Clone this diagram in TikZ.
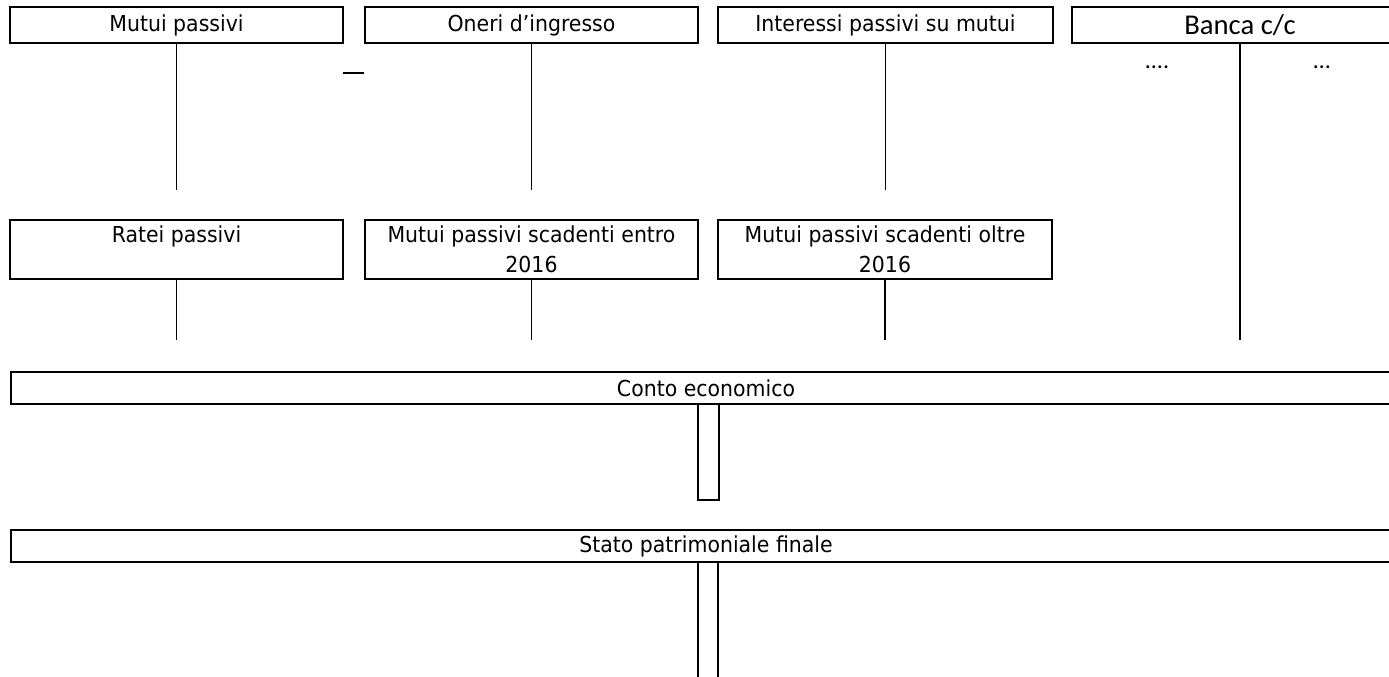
\documentclass[tikz,border=0pt]{standalone}
\usepackage{fontspec}
\setmainfont{DejaVu Sans}[FakeStretch=0.93]
\newfontfamily\calib{Carlito}
\begin{document}
\begin{tikzpicture}[x=0.75pt,y=-0.75pt,
  acct/.style={draw,line width=1.4pt,inner sep=0pt,outer sep=0pt,anchor=north west,align=center,
    font=\fontsize{16.5pt}{22.5pt}\selectfont},
  wide/.style={acct,line width=1.7pt,minimum width=1389*0.75pt,minimum height=32*0.75pt},
  stem/.style={line width=1.2pt},
  dots/.style={font=\calib\fontsize{18pt}{20pt}\selectfont,inner sep=0pt}]
\clip (0,0) rectangle (1389,677);
% row 1
\node[acct,minimum width=333*0.75pt,minimum height=36*0.75pt] (mp) at (10,7) {Mutui passivi};
\node[acct,minimum width=333*0.75pt,minimum height=36*0.75pt] (oi) at (365,7) {Oneri d’ingresso};
\node[acct,minimum width=335*0.75pt,minimum height=36*0.75pt] (ip) at (718,7) {Interessi passivi su mutui};
\node[acct,minimum width=336*0.75pt,minimum height=36*0.75pt,font=\calib\fontsize{21.5pt}{26pt}\selectfont] (bc) at (1072,7) {Banca c/c};
% row 2
\node[acct,minimum width=333*0.75pt,minimum height=59*0.75pt] (rp) at (10,220) {Ratei passivi\\\mbox{}};
\node[acct,minimum width=333*0.75pt,minimum height=59*0.75pt] (me) at (365,220) {Mutui passivi scadenti entro\\2016};
\node[acct,minimum width=334*0.75pt,minimum height=59*0.75pt] (mo) at (718,220) {Mutui passivi scadenti oltre\\2016};
% wide boxes
\node[wide] (ce) at (11,372) {};
\node[wide] (sp) at (11,530) {};
\node[font=\fontsize{16.5pt}{22.5pt}\selectfont,inner sep=0pt] (cet) at (706,388) {Conto economico};
\node[font=\fontsize{16.5pt}{22.5pt}\selectfont,inner sep=0pt] (spt) at (706,546) {Stato patrimoniale finale};
% free ends
\coordinate (mpE) at (mp.south |- 0,190);
\coordinate (oiE) at (oi.south |- 0,190);
\coordinate (ipE) at (ip.south |- 0,190);
\coordinate (bcE) at (bc.south |- 0,340);
\coordinate (rpE) at (rp.south |- 0,340);
\coordinate (meE) at (me.south |- 0,340);
\coordinate (moE) at (mo.south |- 0,340);
\coordinate (d1) at (343,73);
\coordinate (d2) at (364,73);
\coordinate (ceA) at (698,404);
\coordinate (ceB) at (698,500);
\coordinate (ceC) at (719,500);
\coordinate (ceD) at (719,404);
\coordinate (spA) at (698,562);
\coordinate (spB) at (698,677);
\coordinate (spC) at (718,562);
\coordinate (spD) at (718,677);
% stems
\draw[stem] (mp.south) -- (mpE);
\draw[stem] (oi.south) -- (oiE);
\draw[stem] (ip.south) -- (ipE);
\draw[stem] (bc.south) -- (bcE);
\draw[stem] (rp.south) -- (rpE);
\draw[stem] (me.south) -- (meE);
\draw[stem] (mo.south) -- (moE);
\draw[stem] (d1) -- (d2);
\draw[stem] (ceA) -- (ceB) -- (ceC) -- (ceD);
\draw[stem] (spA) -- (spB);
\draw[stem] (spC) -- (spD);
% dots
\node[dots] (bl) at (1157,67) {....};
\node[dots] (br) at (1322,67) {…};
\end{tikzpicture}
\end{document}
